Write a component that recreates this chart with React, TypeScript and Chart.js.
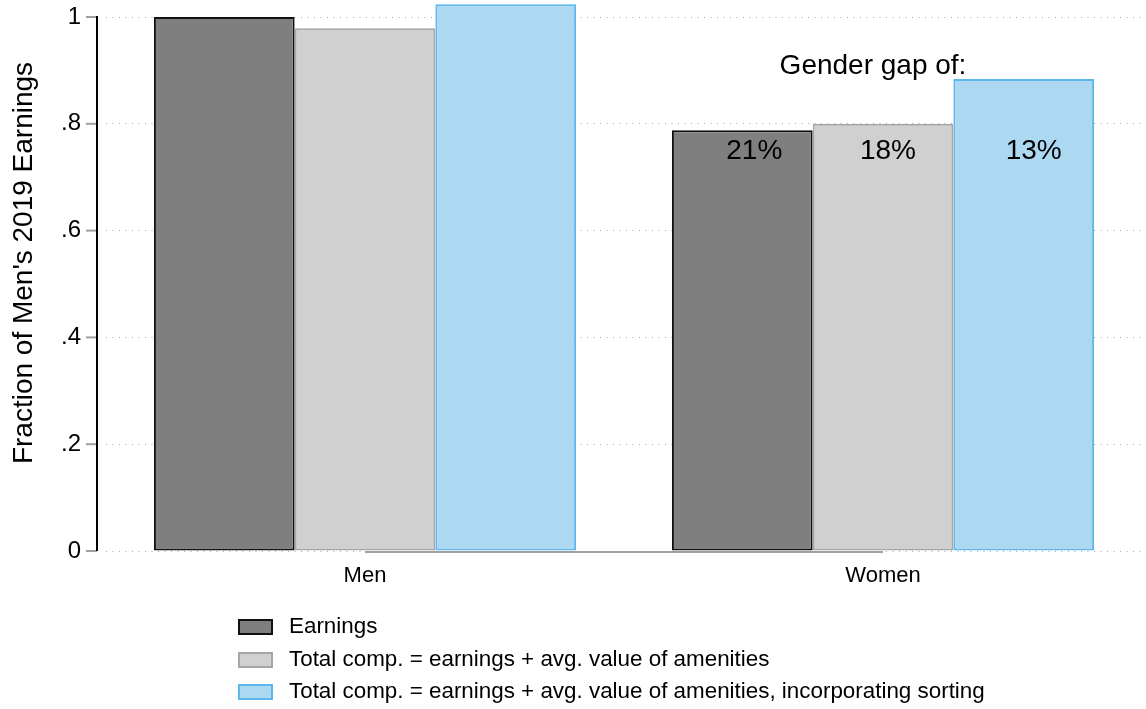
import { useEffect, useRef } from "react"
import { Chart, registerables } from "chart.js"

Chart.register(...registerables)

// Data
const groups = ["Men", "Women"]
const seriesLabels = [
  "Earnings",
  "Total comp. = earnings + avg. value of amenities",
  "Total comp. = earnings + avg. value of amenities, incorporating sorting",
]
const earnings = [1.0, 0.788]
const totalComp = [0.979, 0.8]
const totalCompSorting = [1.024, 0.884]
const yTicks = [0, 0.2, 0.4, 0.6, 0.8, 1]
const yTickLabels = ["0", ".2", ".4", ".6", ".8", "1"]
const gapLabels = ["21%", "18%", "13%"]
const gapTitle = "Gender gap of:"
const yTitle = "Fraction of Men's 2019 Earnings"

const FONT = "'Liberation Sans', Arial, sans-serif"
const fills = ["#7f7f7f", "#d0d0d0", "#acd8f2"]
const borders = ["#111111", "#a6a6a6", "#5db6ec"]

const decorations = {
  id: "decorations",
  beforeDatasetsDraw(chart: any) {
    const { ctx, scales } = chart
    const x = scales.x
    const y = scales.y
    // x axis line runs between the category centres, like Stata
    ctx.save()
    ctx.strokeStyle = "#a0a0a0"
    ctx.lineWidth = 2
    ctx.beginPath()
    ctx.moveTo(x.getPixelForValue(0), y.getPixelForValue(0) + 1)
    ctx.lineTo(x.getPixelForValue(groups.length - 1), y.getPixelForValue(0) + 1)
    ctx.stroke()
    ctx.restore()
  },
  afterDraw(chart: any) {
    const { ctx, chartArea, scales } = chart
    const x = scales.x
    const y = scales.y
    const axisX = chartArea.left - 9
    ctx.save()

    // y axis line and ticks
    ctx.strokeStyle = "#a0a0a0"
    ctx.lineWidth = 2
    yTicks.forEach((v) => {
      const py = y.getPixelForValue(v)
      ctx.beginPath()
      ctx.moveTo(axisX - 11, py)
      ctx.lineTo(axisX, py)
      ctx.stroke()
    })
    ctx.strokeStyle = "#000"
    ctx.lineWidth = 2
    ctx.beginPath()
    ctx.moveTo(axisX, y.getPixelForValue(yTicks[yTicks.length - 1]) - 1)
    ctx.lineTo(axisX, y.getPixelForValue(0))
    ctx.stroke()

    // y title
    ctx.fillStyle = "#000"
    ctx.font = `28px ${FONT}`
    ctx.textAlign = "center"
    ctx.textBaseline = "middle"
    ctx.save()
    ctx.translate(24, 263)
    ctx.rotate(-Math.PI / 2)
    ctx.fillText(yTitle, 0, 0)
    ctx.restore()

    // gender gap annotations
    ctx.font = `28px ${FONT}`
    ctx.fillText(gapTitle, x.getPixelForValue(1) - 10, y.getPixelForValue(0.908))
    const nudges = [12, 5, 10]
    gapLabels.forEach((label, i) => {
      const bar = chart.getDatasetMeta(i).data[1]
      ctx.fillText(label, bar.x + nudges[i], y.getPixelForValue(0.749))
    })

    // legend
    ctx.font = `22.4px ${FONT}`
    ctx.textAlign = "left"
    const rows = [627, 660, 692]
    seriesLabels.forEach((label, i) => {
      ctx.fillStyle = fills[i]
      ctx.fillRect(239, rows[i] - 7, 33, 14)
      ctx.strokeStyle = borders[i]
      ctx.lineWidth = 2
      ctx.strokeRect(239, rows[i] - 7, 33, 14)
      ctx.fillStyle = "#000"
      ctx.fillText(label, 289, rows[i])
    })
    ctx.restore()
  },
}

export default function App() {
  const chartRef = useRef<HTMLCanvasElement>(null)
  const chartInstance = useRef<Chart | null>(null)

  useEffect(() => {
    if (!chartRef.current) return
    if (chartInstance.current) chartInstance.current.destroy()
    const ctx = chartRef.current.getContext("2d")
    if (!ctx) return

    const values = [earnings, totalComp, totalCompSorting]

    chartInstance.current = new Chart(ctx, {
      type: "bar",
      data: {
        labels: groups,
        datasets: values.map((data, i) => ({
          label: seriesLabels[i],
          data,
          backgroundColor: fills[i],
          borderColor: borders[i],
          borderWidth: 2,
          borderSkipped: false,
          barPercentage: 1,
          categoryPercentage: 0.815,
        })),
      },
      options: {
        responsive: true,
        maintainAspectRatio: false,
        animation: false,
        layout: { padding: { top: 1, right: 4, left: 0, bottom: 0 } },
        scales: {
          x: {
            afterFit: (scale: any) => {
              scale.height = 158
              scale.paddingLeft = 0
              scale.paddingRight = 0
            },
            grid: { display: false, drawTicks: false },
            border: { display: false },
            ticks: {
              padding: 12,
              color: "#000",
              font: { size: 22, family: FONT },
            },
          },
          y: {
            min: 0,
            max: 1.03,
            afterBuildTicks: (scale: any) => {
              scale.ticks = yTicks.map((v) => ({ value: v }))
            },
            afterFit: (scale: any) => {
              scale.width = 106
              scale.paddingTop = 0
              scale.paddingBottom = 0
            },
            grid: { color: "#a8a8a8", lineWidth: 1, drawTicks: false },
            border: { display: false, dash: [1, 5.5] },
            ticks: {
              padding: 25,
              color: "#000",
              font: { size: 24, family: FONT },
              callback: (value: any) => yTickLabels[yTicks.indexOf(Number(value))],
            },
          },
        },
        plugins: {
          legend: { display: false },
          tooltip: { enabled: false },
        },
      },
      plugins: [decorations],
    })

    return () => {
      if (chartInstance.current) {
        chartInstance.current.destroy()
        chartInstance.current = null
      }
    }
  }, [])

  return (
    <div style={{ position: "fixed", left: 0, top: 0, width: 1146, height: 709, background: "#fff" }}>
      <canvas ref={chartRef}></canvas>
    </div>
  )
}
